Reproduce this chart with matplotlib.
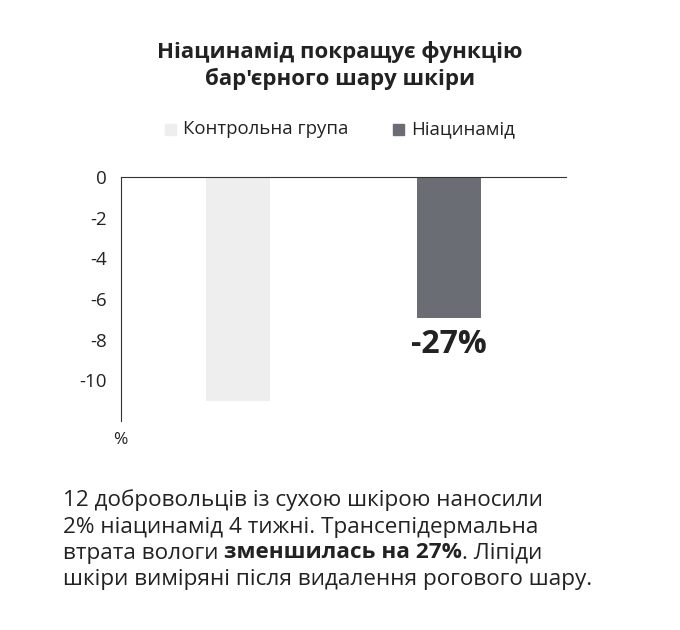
import matplotlib
matplotlib.use("Agg")
import matplotlib.pyplot as plt
from matplotlib.patches import Rectangle

categories = ["Контрольна група", "Ніацинамід"]
values = [-11.0, -6.95]
colors = ["#eeeeee", "#6b6d75"]
yticks = [0, -2, -4, -6, -8, -10]
annotation = "-27%"

plt.rcParams["font.family"] = "Open Sans"
fig = plt.figure(figsize=(6.8, 6.3), dpi=100)
W, H = 680, 630
ax = fig.add_axes([121/W, 1-421/H, 445/W, 244/H])
ax.bar([0.263, 0.737], values, width=0.144, color=colors)
ax.set_xlim(0, 1)
ax.set_ylim(-12, 0)
for s in ["right", "bottom"]:
    ax.spines[s].set_visible(False)
ax.spines["top"].set_color("#333333")
ax.spines["left"].set_color("#333333")
ax.spines["top"].set_linewidth(0.8)
ax.spines["left"].set_linewidth(0.8)
ax.set_xticks([])
ax.set_yticks(yticks + [-12])
ax.set_yticklabels([str(t) for t in yticks] + [""], fontsize=13.5, color="#222222")
ax.tick_params(axis="y", length=0, pad=10)
ax.text(0.737, values[1] - 0.5, annotation, ha="center", va="top", fontsize=23, fontweight="bold", color="#222222")
fig.text(113/W, 1-440/H, "%", ha="left", va="center", fontsize=12.5, color="#222222")

fig.text(0.5, 1-52/H, "Ніацинамід покращує функцію", ha="center", va="center", fontsize=16, fontweight="bold", color="#222222")
fig.text(0.5, 1-79/H, "бар'єрного шару шкіри", ha="center", va="center", fontsize=16, fontweight="bold", color="#222222")

for x, c, lab in [(165, colors[0], categories[0]), (393, colors[1], categories[1])]:
    fig.patches.append(Rectangle((x/W, 1-135/H), 11/W, 11/H, transform=fig.transFigure, color=c))
    fig.text((x+18)/W, 1-129/H, lab, ha="left", va="center", fontsize=13.4, color="#222222")

fs = 16.2
lines_y = [500, 527, 553, 580]
fig.text(63/W, 1-lines_y[0]/H, "12 добровольців із сухою шкірою наносили", fontsize=fs, va="center", color="#222222")
fig.text(63/W, 1-lines_y[1]/H, "2% ніацинамід 4 тижні. Трансепідермальна", fontsize=fs, va="center", color="#222222")
fig.text(63/W, 1-lines_y[3]/H, "шкіри виміряні після видалення рогового шару.", fontsize=fs, va="center", color="#222222")
r = fig.canvas.get_renderer()
x = 63/W
for txt, w in [("втрата вологи ", "normal"), ("зменшилась на 27%", "bold"), (". Ліпіди", "normal")]:
    t = fig.text(x, 1-lines_y[2]/H, txt, fontsize=fs, va="center", fontweight=w, color="#222222")
    bb = t.get_window_extent(renderer=r)
    x += bb.width / W
fig.savefig("out.png", dpi=100)
